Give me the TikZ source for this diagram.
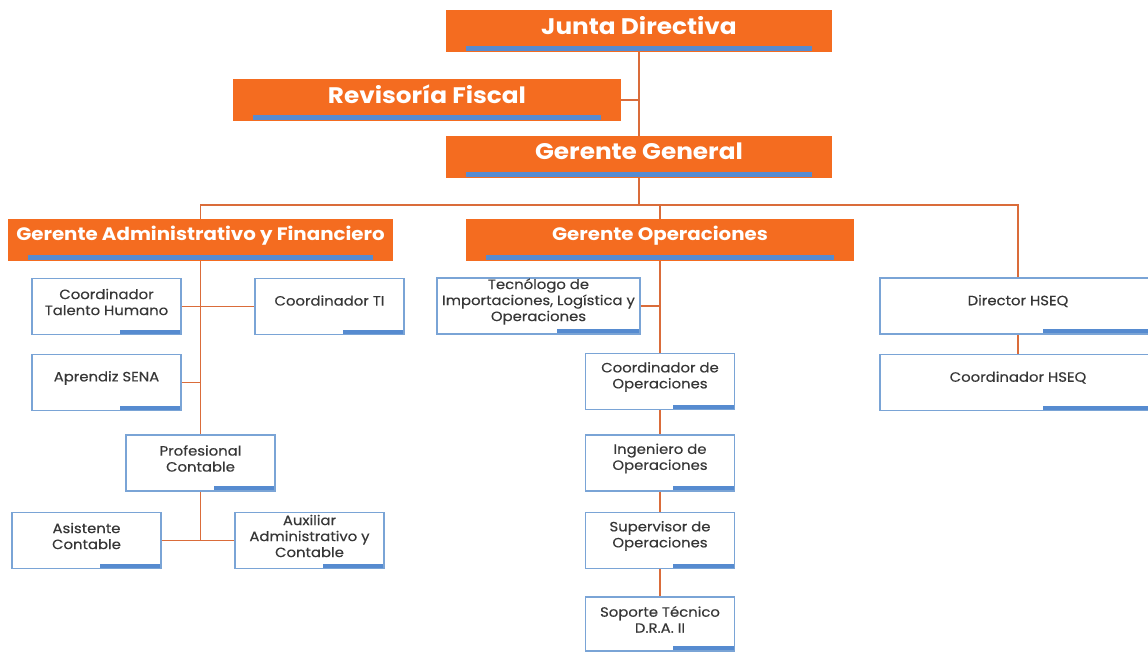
\documentclass[tikz,border=0pt]{standalone}
\usepackage{fontspec}
\setmainfont{Poppins}
\newfontfamily\headfont[FakeStretch=1.1]{Poppins}
\newfontfamily\bodyfont[FakeStretch=1.1,FakeBold=0.3]{Poppins}
\usetikzlibrary{calc}
\definecolor{orgbox}{RGB}{244,108,32}
\definecolor{barblue}{RGB}{86,139,208}
\definecolor{edgeblue}{RGB}{122,164,214}
\definecolor{linkor}{RGB}{218,108,58}
\definecolor{txtgray}{RGB}{55,55,55}
\begin{document}
\begin{tikzpicture}[x=1pt,y=-1pt,
  obox/.style={fill=orgbox, minimum height=42pt, inner sep=0pt,
    path picture={\fill[barblue] ([xshift=20pt,yshift=1pt]path picture bounding box.south west) rectangle ([xshift=-20pt,yshift=6pt]path picture bounding box.south east);}},
  otxt/.style={text=white, font=\headfont\bfseries\fontsize{22.5}{26}\selectfont, inner sep=0pt},
  wbox/.style={draw=edgeblue, line width=1.3pt, fill=white, minimum width=149pt, minimum height=56pt, inner sep=0pt,
    path picture={\fill[barblue] ($(path picture bounding box.south west)!0.59!(path picture bounding box.south east)$) rectangle ([yshift=5pt]path picture bounding box.south east);}},
  wtxt/.style={align=center, text=txtgray, font=\bodyfont\fontsize{13.5}{16}\selectfont, inner sep=0pt},
  link/.style={draw=linkor, line width=1.5pt}]

\useasboundingbox (0,0) rectangle (1148,651);

\coordinate (bus) at (639,205);

% top boxes
\node[obox, minimum width=386pt] (jd) at (639,31) {};
\node[obox, minimum width=388pt] (rf) at (427,100) {};
\node[obox, minimum width=386pt] (gg) at (639,157) {};
\node[obox, minimum width=385pt] (gaf) at (200.5,240) {};
\node[obox, minimum width=388pt] (gop) at (660,240) {};

\node[otxt] (jdt) at ([yshift=5.5pt]jd.center) {Junta Directiva};
\node[otxt] (rft) at ([yshift=5.5pt]rf.center) {Revisoría Fiscal};
\node[otxt] (ggt) at ([yshift=5.5pt]gg.center) {Gerente General};
\node[otxt, font=\headfont\bfseries\fontsize{18}{21}\selectfont] (gaft) at ([yshift=4pt]gaf.center) {Gerente Administrativo y Financiero};
\node[otxt, font=\headfont\bfseries\fontsize{18}{21}\selectfont] (gopt) at ([yshift=4pt]gop.center) {Gerente Operaciones};

% administrativo
\node[wbox] (cth) at (106.5,306.5) {};
\node[wbox] (cti) at (329.5,306.5) {};
\node[wbox] (sena) at (106.5,382.5) {};
\node[wbox] (pc) at (200.5,463) {};
\node[wbox] (ac) at (86.5,540.5) {};
\node[wbox] (aux) at (309.5,540.5) {};

% operaciones
\node[wbox, minimum width=203pt] (tec) at (538.5,306) {};
\node[wbox] (cop) at (660,381.5) {};
\node[wbox] (ing) at (660,463) {};
\node[wbox] (sup) at (660,540.5) {};
\node[wbox, minimum height=54pt] (sop) at (660,624) {};

% hseq
\node[wbox, minimum width=276pt] (dir) at (1018,306) {};
\node[wbox, minimum width=276pt] (chs) at (1018,382.5) {};

\node[wtxt] (ctht) at ([yshift=4.5pt]cth.center) {Coordinador\\Talento Humano};
\node[wtxt] (citt) at ([yshift=6pt]cti.center) {Coordinador TI};
\node[wtxt] (senat) at ([yshift=4.5pt]sena.center) {Aprendiz SENA};
\node[wtxt] (pct) at ([yshift=4.5pt]pc.center) {Profesional\\Contable};
\node[wtxt] (act) at ([yshift=4.5pt]ac.center) {Asistente\\Contable};
\node[wtxt] (auxt) at ([yshift=4.5pt]aux.center) {Auxiliar\\Administrativo y\\Contable};
\node[wtxt] (tect) at ([yshift=4.5pt]tec.center) {Tecnólogo de\\Importaciones, Logística y\\Operaciones};
\node[wtxt] (copt) at ([yshift=4.5pt]cop.center) {Coordinador de\\Operaciones};
\node[wtxt] (ingt) at ([yshift=4.5pt]ing.center) {Ingeniero de\\Operaciones};
\node[wtxt] (supt) at ([yshift=4.5pt]sup.center) {Supervisor de\\Operaciones};
\node[wtxt] (sopt) at ([yshift=4.5pt]sop.center) {Soporte Técnico\\D.R.A. II};
\node[wtxt] (dirt) at ([yshift=5pt]dir.center) {Director HSEQ};
\node[wtxt] (chst) at ([yshift=5pt]chs.center) {Coordinador HSEQ};

% lines
\draw[link] (jd.south) -- (gg.north);
\draw[link] (rf.east) -- (rf.east -| jd.south);
\draw[link] (gg.south) -- (bus);
\draw[link] (gaf.north) |- (bus) -| (dir.north);
\draw[link] (gop.north) -- (gop.north |- bus);

\draw[link] (gaf.south) -- (pc.north);
\draw[link] (cth.east) -- (cti.west);
\draw[link] (sena.east) -- (sena.east -| gaf.south);
\draw[link] (pc.south) -- (pc.south |- ac.east);
\draw[link] (ac.east) -- (aux.west);

\draw[link] (gop.south) -- (cop.north);
\draw[link] (tec.east) -- (tec.east -| gop.south);
\draw[link] (cop.south) -- (ing.north);
\draw[link] (ing.south) -- (sup.north);
\draw[link] (sup.south) -- (sop.north);

\draw[link] (dir.south) -- (chs.north);

\end{tikzpicture}
\end{document}
